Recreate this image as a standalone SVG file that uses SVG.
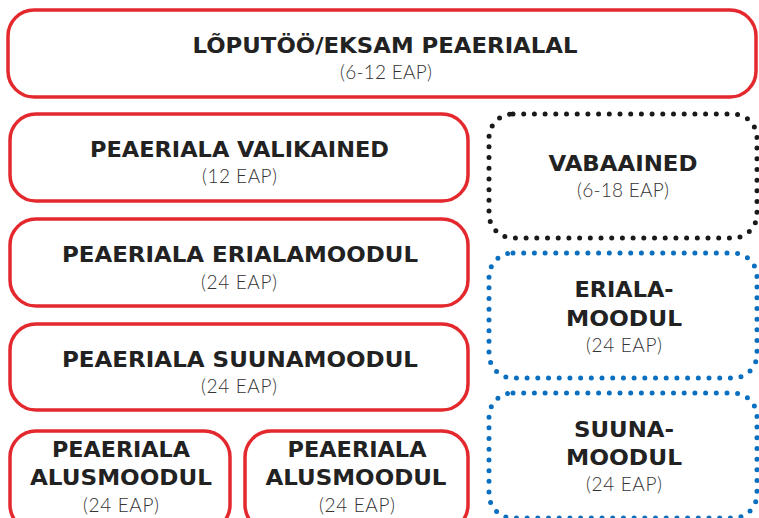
<svg xmlns="http://www.w3.org/2000/svg" width="759" height="518" viewBox="0 0 759 518">
<style>
.red{fill:#fff;stroke:#e3282e;stroke-width:3.5}
.dot{fill:none;stroke-width:5;stroke-linecap:round;stroke-dasharray:0 10.7}
.blk{stroke:#1a1a1a}
.blu{stroke:#0a6fbf}
.t{font-family:"DejaVu Sans",Lato,sans-serif;font-weight:bold;font-size:21px;fill:#222;text-anchor:middle}
.s{font-family:Lato,"Open Sans",sans-serif;font-weight:300;font-size:19px;fill:#333;text-anchor:middle}
</style>
<rect width="759" height="518" fill="#fff"/>
<g id="loputoo">
<rect class="red" x="8" y="10" width="748" height="87" rx="26"/>
<text class="t" x="385" y="52.5" textLength="385" lengthAdjust="spacingAndGlyphs">LÕPUTÖÖ/EKSAM PEAERIALAL</text>
<text class="s" x="386" y="79" textLength="92" lengthAdjust="spacing">(6-12 EAP)</text>
</g>
<g id="valikained">
<rect class="red" x="10" y="114" width="458" height="87" rx="26"/>
<text class="t" x="239.5" y="156.5" textLength="299" lengthAdjust="spacingAndGlyphs">PEAERIALA VALIKAINED</text>
<text class="s" x="239.5" y="182.5" textLength="75" lengthAdjust="spacing">(12 EAP)</text>
</g>
<g id="erialamoodul">
<rect class="red" x="10" y="219" width="458" height="87" rx="26"/>
<text class="t" x="240" y="262" textLength="356" lengthAdjust="spacingAndGlyphs">PEAERIALA ERIALAMOODUL</text>
<text class="s" x="239" y="289" textLength="76" lengthAdjust="spacing">(24 EAP)</text>
</g>
<g id="suunamoodul">
<rect class="red" x="10" y="324" width="458" height="86" rx="26"/>
<text class="t" x="240" y="367" textLength="356" lengthAdjust="spacingAndGlyphs">PEAERIALA SUUNAMOODUL</text>
<text class="s" x="239" y="393" textLength="76" lengthAdjust="spacing">(24 EAP)</text>
</g>
<g id="alusmoodul1">
<rect class="red" x="10" y="431" width="220" height="100" rx="26"/>
<text class="t" x="121" y="456.5" textLength="138" lengthAdjust="spacingAndGlyphs">PEAERIALA</text>
<text class="t" x="121" y="485" textLength="182" lengthAdjust="spacingAndGlyphs">ALUSMOODUL</text>
<text class="s" x="121" y="512" textLength="76" lengthAdjust="spacing">(24 EAP)</text>
</g>
<g id="alusmoodul2">
<rect class="red" x="245" y="431" width="223" height="100" rx="26"/>
<text class="t" x="357" y="456.5" textLength="139" lengthAdjust="spacingAndGlyphs">PEAERIALA</text>
<text class="t" x="356" y="485" textLength="181" lengthAdjust="spacingAndGlyphs">ALUSMOODUL</text>
<text class="s" x="357" y="512" textLength="76" lengthAdjust="spacing">(24 EAP)</text>
</g>
<g id="vabaained">
<rect class="dot blk" x="489" y="114" width="268" height="124" rx="24"/>
<text class="t" x="623" y="170.5" textLength="149" lengthAdjust="spacingAndGlyphs">VABAAINED</text>
<text class="s" x="623" y="197" textLength="92" lengthAdjust="spacing">(6-18 EAP)</text>
</g>
<g id="eriala">
<rect class="dot blu" x="489" y="253" width="268" height="125" rx="24"/>
<text class="t" x="624" y="297" textLength="99" lengthAdjust="spacingAndGlyphs">ERIALA-</text>
<text class="t" x="624" y="326" textLength="116" lengthAdjust="spacingAndGlyphs">MOODUL</text>
<text class="s" x="624" y="352" textLength="76" lengthAdjust="spacing">(24 EAP)</text>
</g>
<g id="suuna">
<rect class="dot blu" x="489" y="393" width="268" height="125" rx="24"/>
<text class="t" x="624" y="437" textLength="100" lengthAdjust="spacingAndGlyphs">SUUNA-</text>
<text class="t" x="624" y="465" textLength="116" lengthAdjust="spacingAndGlyphs">MOODUL</text>
<text class="s" x="624" y="491" textLength="76" lengthAdjust="spacing">(24 EAP)</text>
</g>
<g id="connectors"/>
</svg>
